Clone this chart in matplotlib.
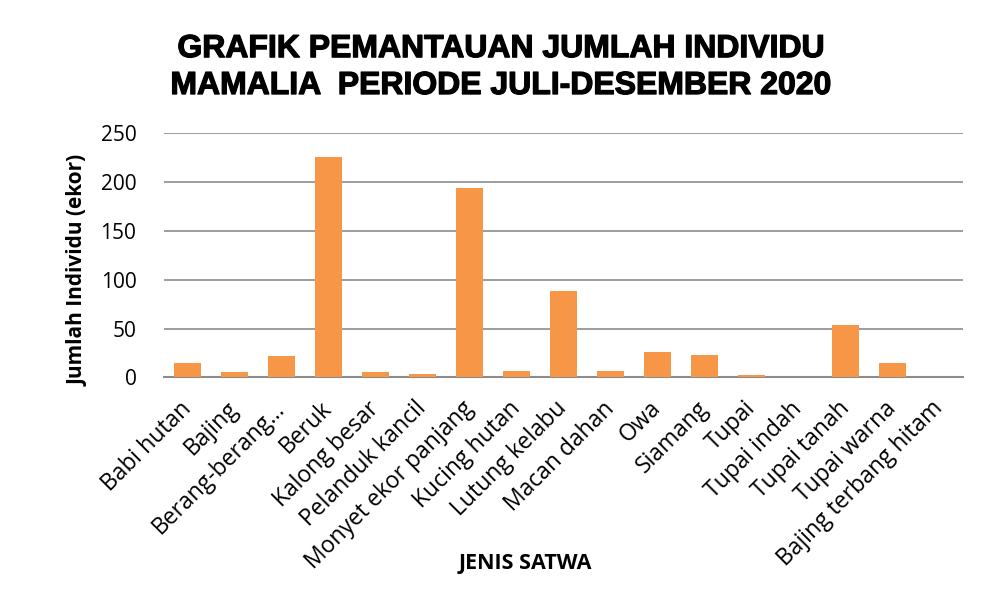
import matplotlib
matplotlib.use("Agg")
import matplotlib.pyplot as plt
import matplotlib.patheffects as pe

# --- Data ---
species = [
    "Babi hutan", "Bajing", "Berang-berang...", "Beruk", "Kalong besar",
    "Pelanduk kancil", "Monyet ekor panjang", "Kucing hutan", "Lutung kelabu",
    "Macan dahan", "Owa", "Siamang", "Tupai", "Tupai indah", "Tupai tanah",
    "Tupai warna", "Bajing terbang hitam",
]
counts = [15, 5, 22, 226, 5, 3, 194, 6, 88, 7, 26, 23, 2, 0, 54, 15, 0]
y_ticks = [0, 50, 100, 150, 200, 250]

BAR_COLOR = "#F79646"
LABEL_FONT = ["Open Sans", "DejaVu Sans"]

fig = plt.figure(figsize=(9.89, 5.98), dpi=100)
ax = fig.add_axes([0.166, 0.369, 0.808, 0.408])

x = list(range(len(species)))
ax.bar(x, counts, width=0.57, color=BAR_COLOR, zorder=3)

ax.set_xlim(-0.5, len(species) - 0.5)
ax.set_ylim(0, 250)
ax.set_yticks(y_ticks)
ax.set_yticklabels([str(v) for v in y_ticks], fontsize=15, family=LABEL_FONT)
ax.set_xticks(x)
ax.set_xticklabels(species, rotation=45, ha="right", va="center",
                   rotation_mode="anchor", fontsize=16.5, family=LABEL_FONT)

ax.grid(axis="y", color="#8c8c8c", linewidth=1.2, zorder=0)
ax.tick_params(axis="y", length=0, pad=20)
ax.tick_params(axis="x", length=0, pad=20)
for side in ["top", "right", "left"]:
    ax.spines[side].set_visible(False)
ax.spines["bottom"].set_color("#8c8c8c")
ax.spines["bottom"].set_linewidth(1.5)

ax.set_ylabel("Jumlah Individu (ekor)", fontsize=15, fontweight="bold",
              family=LABEL_FONT)
ax.yaxis.set_label_coords(-0.095, 0.44)
fig.text(0.531, 0.058, "JENIS SATWA", ha="center", va="center",
         fontsize=15.5, fontweight="bold", family=LABEL_FONT)

title = fig.text(0.507, 0.887,
                 "GRAFIK PEMANTAUAN JUMLAH INDIVIDU\nMAMALIA  PERIODE JULI-DESEMBER 2020",
                 ha="center", va="center", fontsize=23, fontweight="bold",
                 family=["Liberation Sans", "DejaVu Sans"], linespacing=1.3)
title.set_path_effects([pe.withStroke(linewidth=0.9, foreground="black")])

fig.savefig("out.png", dpi=100)
